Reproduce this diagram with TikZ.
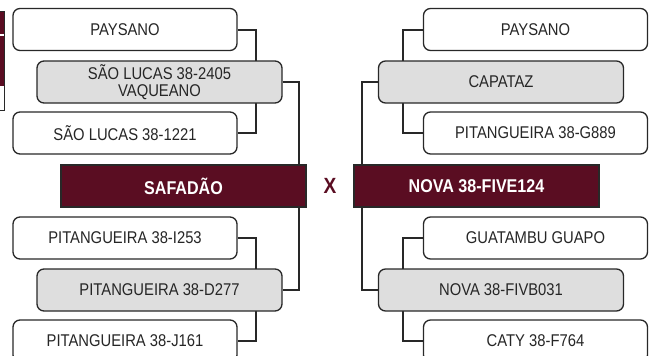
\documentclass[tikz,border=0pt]{standalone}
\usepackage{fontspec}
\setmainfont{Liberation Sans}[FakeStretch=0.87]
\usepackage{tikz}
\usetikzlibrary{positioning,calc,backgrounds}
\usepackage{xcolor}
\definecolor{wine}{RGB}{90,13,34}
\definecolor{linegray}{RGB}{40,40,40}
\definecolor{boxgray}{RGB}{222,222,222}

\begin{document}
\begin{tikzpicture}[x=1pt, y=-1pt,
    anc/.style={rectangle, rounded corners=7pt, draw=linegray, line width=1.3pt, fill=white, minimum width=224pt, minimum height=42pt, inner sep=0pt, align=center, font=\fontsize{17}{16.5}\selectfont, text=black!85},
    par/.style={anc, fill=boxgray, minimum width=245pt},
    main/.style={rectangle, draw=linegray, line width=1.3pt, fill=wine, minimum width=245pt, minimum height=42pt, inner sep=0pt, align=center, text=white, font=\fontsize{18.5}{20}\selectfont\bfseries},
    link/.style={draw=linegray, line width=2pt}
]
    \clip (0,0) rectangle (656,356);

    % cut edge of a neighbouring panel
    \draw[draw=linegray, line width=1pt, fill=white] (-5,11.5) rectangle (4,110);
    \fill[wine] (-5,11.5) rectangle (4,33.5);
    \fill[wine] (-5,36) rectangle (4,85.5);

    % left side
    \node[anc] (lp1) at (125,29.5) {PAYSANO};
    \node[par] (lg1) at (159.5,82) {SÃO LUCAS 38-2405\\VAQUEANO};
    \node[anc] (lp2) at (125,133) {SÃO LUCAS 38-1221};
    \node[main] (sire) at (183.5,186) {SAFADÃO};
    \node[anc] (lp3) at (125,238) {PITANGUEIRA 38-I253};
    \node[par] (lg2) at (159.5,290) {PITANGUEIRA 38-D277};
    \node[anc] (lp4) at (125,341) {PITANGUEIRA 38-J161};

    % right side
    \node[anc] (rp1) at (535.5,29.5) {PAYSANO};
    \node[par] (rg1) at (501,82) {CAPATAZ};
    \node[anc] (rp2) at (535.5,133) {PITANGUEIRA 38-G889};
    \node[main] (dam) at (476.5,186) {NOVA 38-FIVE124};
    \node[anc] (rp3) at (535.5,238) {GUATAMBU GUAPO};
    \node[par] (rg2) at (501,290) {NOVA 38-FIVB031};
    \node[anc] (rp4) at (535.5,341) {CATY 38-F764};

    \node[text=wine, font=\fontsize{22}{22}\selectfont\bfseries] (cross) at (330,186) {X};

    \begin{scope}[on background layer]
        \draw[link] (lp1.east) -- ++(18,0) |- (lp2.east);
        \draw[link] (lp3.east) -- ++(18,0) |- (lp4.east);
        \draw[link] (lg1.east) -| ([xshift=-8pt]sire.north east);
        \draw[link] ([xshift=-8pt]sire.south east) |- (lg2.east);
        \draw[link] (rp1.west) -- ++(-20,0) |- (rp2.west);
        \draw[link] (rp3.west) -- ++(-20,0) |- (rp4.west);
        \draw[link] (rg1.west) -| ([xshift=9pt]dam.north west);
        \draw[link] ([xshift=9pt]dam.south west) |- (rg2.west);
    \end{scope}
\end{tikzpicture}
\end{document}
